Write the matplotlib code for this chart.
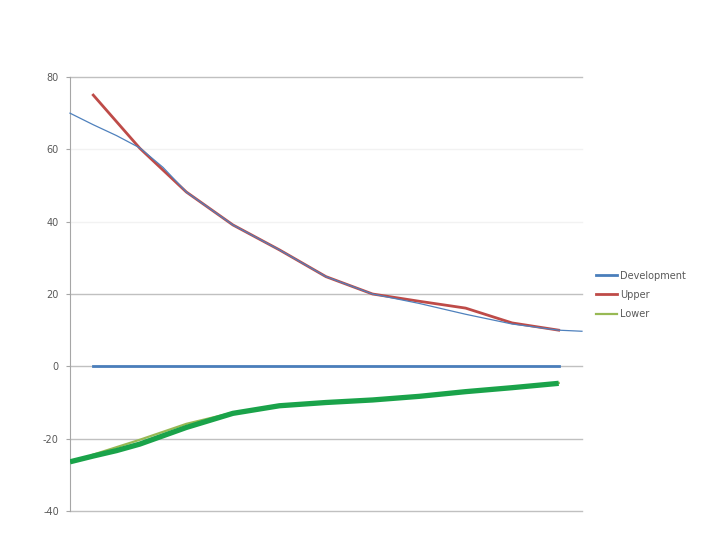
import matplotlib
matplotlib.use("Agg")
import matplotlib.pyplot as plt
import numpy as np

plt.rcParams['axes.unicode_minus'] = False

# category positions (Excel-style line chart, 11 points)
cats = list(range(11))
development = [0] * 11
upper = [75.0, 60.3, 48.2, 39.1, 32.2, 24.8, 20.0, 18.0, 16.1, 12.0, 10.0]
lower = [-24.4, -20.3, -15.9, -12.8, -10.8, -10.0, -9.3, -8.2, -7.0, -5.9, -4.6]

# trend-like curves that run to the plot edges
trend_x = [-0.5, 0, 0.5, 1, 1.5, 2, 3, 4, 5, 6, 7, 8, 9, 10, 10.5]
trend_dev = [70.0, 66.8, 63.8, 60.4, 55.0, 48.2, 39.1, 32.2, 24.8, 20.0, 17.4, 14.4, 11.7, 10.0, 9.7]
green_x = [-0.5, 0, 0.5, 1, 1.5, 2, 3, 4, 5, 6, 7, 8, 9, 10]
green_lower = [-26.4, -24.8, -23.3, -21.5, -19.2, -16.9, -13.0, -10.9, -10.0, -9.3, -8.3, -7.0, -5.9, -4.7]

yticks = [80, 60, 40, 20, 0, -20, -40]

fig = plt.figure(figsize=(7.2, 5.4), dpi=100)
ax = fig.add_axes([0.0972, 0.0537, 0.7111, 0.8037])

for t in yticks:
    c = '#f2f2f2' if t in (60, 40) else '#c0c0c0'
    ax.axhline(t, color=c, lw=1, zorder=0, clip_on=False)

ax.plot(cats, development, color='#4a7ebb', lw=2, label='Development', zorder=2)
ax.plot(cats, upper, color='#be4b48', lw=2, label='Upper', zorder=2)
ax.plot(cats, lower, color='#98b954', lw=1.6, label='Lower', zorder=2)
ax.plot(trend_x, trend_dev, color='#4f81bd', lw=0.9, zorder=3, clip_on=False)
ax.plot(green_x, green_lower, color='#1aa34a', lw=3.8, zorder=3, solid_capstyle='butt')

ax.set_xlim(-0.5, 10.5)
ax.set_ylim(-40, 80)
ax.set_yticks(yticks)
ax.set_xticks([])
for s in ['top', 'right', 'bottom']:
    ax.spines[s].set_visible(False)
ax.spines['left'].set_color('#a6a6a6')
ax.tick_params(axis='y', length=3, color='#a6a6a6', labelsize=7, labelcolor='#595959', pad=5)

leg = ax.legend(loc='center left', bbox_to_anchor=(1.01, 0.498), frameon=False,
                fontsize=7, handlelength=2.2, handletextpad=0.3, labelspacing=0.95)
for txt in leg.get_texts():
    txt.set_color('#595959')

fig.savefig('out.png', dpi=100)
